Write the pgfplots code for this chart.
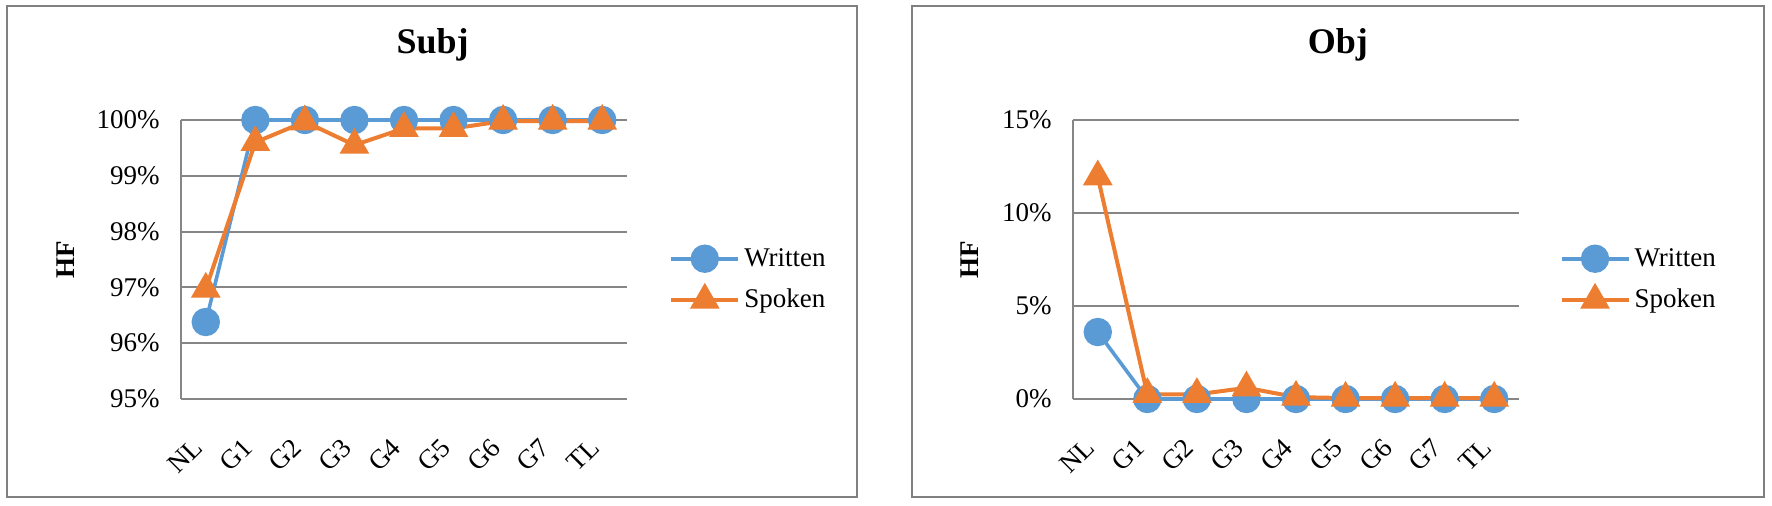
\documentclass[border=0pt]{standalone}
\usepackage{fontspec}
\setmainfont{Liberation Serif}
\usepackage{pgfplots}
\pgfplotsset{compat=1.18}

\definecolor{written}{RGB}{91,155,213}
\definecolor{spoken}{RGB}{237,125,49}
\definecolor{gridgray}{RGB}{134,134,134}
\definecolor{framegray}{RGB}{128,128,128}

\pgfplotsset{
  hfpanel/.style={
    scale only axis, width=223pt, height=139.5pt,
    xmin=-0.5, xmax=8.5, xtick={0,...,8},
    xticklabels={NL,G1,G2,G3,G4,G5,G6,G7,TL},
    axis lines*=left,
    x axis line style={draw=none},
    y axis line style={draw=gridgray, line width=1pt},
    ymajorgrids, grid style={draw=gridgray, line width=1pt},
    major tick length=0pt,
    tick label style={font=\fontsize{13.5}{16}\selectfont},
    yticklabel style={inner sep=0pt, xshift=-10.5pt},
    yticklabel={\pgfmathprintnumber[assume math mode=true]{\tick}\%},
    xticklabel style={inner sep=0pt, anchor=east, xshift=-3.75pt, yshift=-22pt, rotate=45},
    ylabel={HF},
    ylabel style={font=\fontsize{13.5}{16}\selectfont\bfseries, anchor=center},
    title style={font=\fontsize{18}{21}\selectfont\bfseries, anchor=center},
    legend cell align=left,
    legend style={draw=none, fill=none, anchor=west, inner sep=0pt,
      font=\fontsize{13.5}{16}\selectfont, row sep=6pt},
    legend image code/.code={
      \draw[mark repeat=2, mark phase=2, #1] plot coordinates {(0pt,0pt) (16.75pt,0pt) (33.5pt,0pt)};},
    clip=false,
  },
  wr/.style={color=written, line width=1.8pt, mark=*, mark size=6.2pt, mark options={solid}},
  sp/.style={color=spoken, line width=2pt, mark=triangle*, mark size=6.6pt, mark options={solid}},
}

\begin{document}
\begin{tikzpicture}
\path (0pt,0pt) rectangle (886pt,-253pt);
\draw[framegray, line width=1.2pt] (3.5pt,-3pt) rectangle (428.5pt,-248.5pt);
\draw[framegray, line width=1.2pt] (456pt,-3pt) rectangle (882pt,-248.5pt);

\begin{axis}[hfpanel, at={(90.5pt,-199.5pt)}, anchor=south west,
  ymin=95, ymax=100, ytick={95,96,...,100},
  title={Subj}, title style={at={(axis description cs:0.564,1.226)}},
  ylabel style={at={(axis description cs:-0.258,0.5)}},
  legend style={at={(axis description cs:1.094,0.428)}}]
\addplot[wr] coordinates {(0,96.38) (1,100) (2,100) (3,100) (4,100) (5,100) (6,100) (7,100) (8,100)};
\addlegendentry{Written}
\addplot[sp] coordinates {(0,96.97) (1,99.6) (2,99.97) (3,99.55) (4,99.85) (5,99.85) (6,99.98) (7,99.98) (8,99.98)};
\addlegendentry{Spoken}
\end{axis}

\begin{axis}[hfpanel, at={(536.5pt,-199.5pt)}, anchor=south west,
  ymin=0, ymax=15, ytick={0,5,10,15},
  title={Obj}, title style={at={(axis description cs:0.594,1.226)}},
  ylabel style={at={(axis description cs:-0.231,0.5)}},
  legend style={at={(axis description cs:1.090,0.428)}}]
\addplot[wr] coordinates {(0,3.6) (1,0) (2,0) (3,0) (4,0) (5,0) (6,0) (7,0) (8,0)};
\addlegendentry{Written}
\addplot[sp] coordinates {(0,11.95) (1,0.25) (2,0.25) (3,0.6) (4,0.1) (5,0.05) (6,0.05) (7,0.05) (8,0.05)};
\addlegendentry{Spoken}
\end{axis}
\end{tikzpicture}
\end{document}
